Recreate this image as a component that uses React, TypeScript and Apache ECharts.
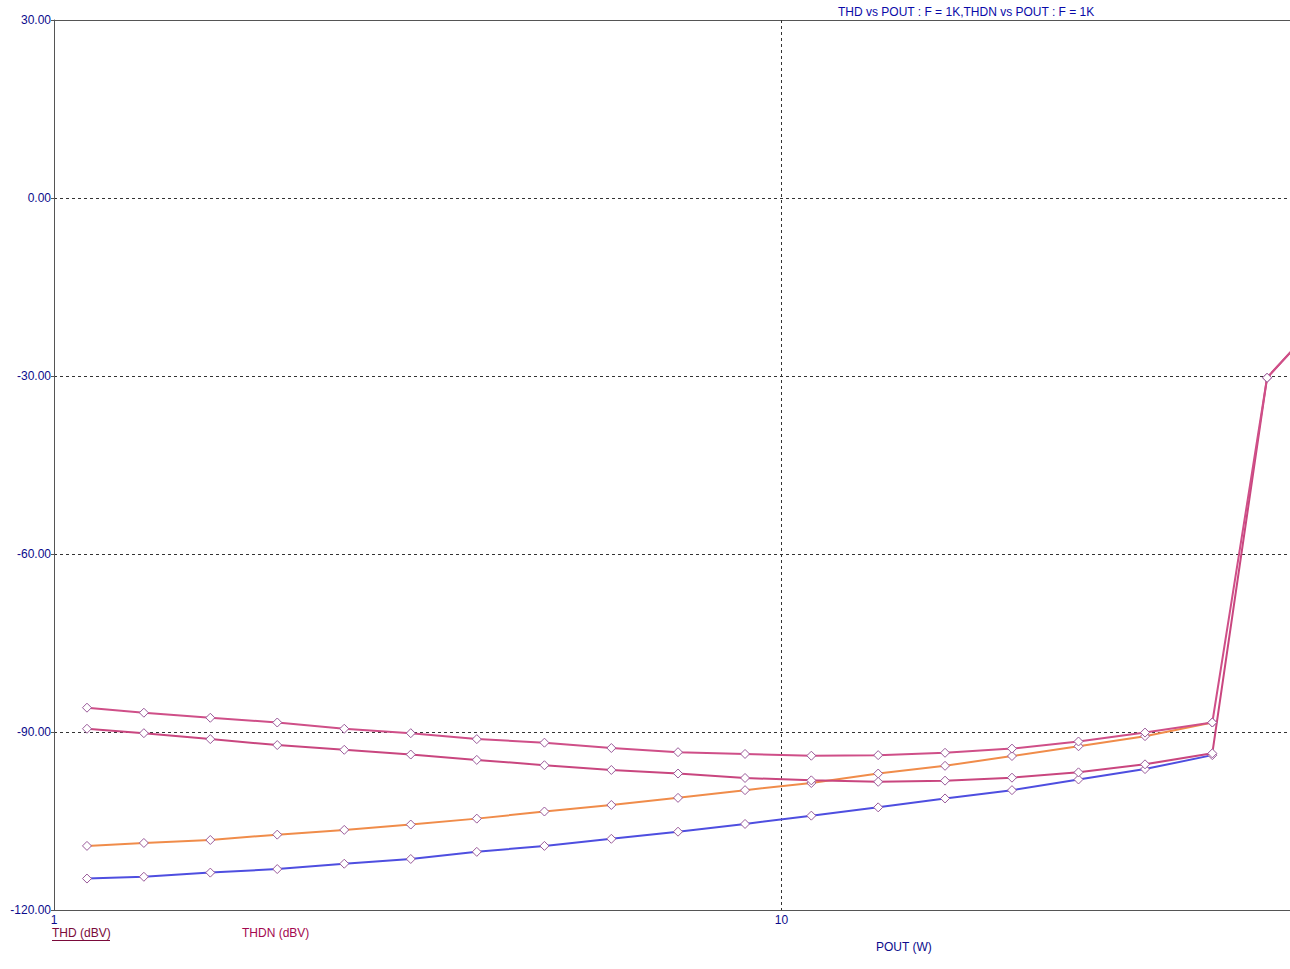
import React, { useEffect, useRef } from "react";
import * as echarts from "echarts";

const pout = [1.11, 1.329, 1.64, 2.027, 2.506, 3.093, 3.812, 4.722, 5.836, 7.207, 8.91, 10.99, 13.58, 16.78, 20.74, 25.6, 31.6, 39.1, 46.5, 57.5];
const thdnA = [-85.9, -86.75, -87.6, -88.4, -89.45, -90.2, -91.2, -91.8, -92.7, -93.4, -93.7, -94.0, -93.9, -93.5, -92.8, -91.6, -90.1, -88.4, -30.3, -18];
const thdnB = [-89.45, -90.2, -91.2, -92.2, -93.0, -93.8, -94.7, -95.6, -96.4, -97.0, -97.75, -98.15, -98.4, -98.2, -97.7, -96.8, -95.45, -93.6, -30.3, -18];
const thdA = [-109.2, -108.7, -108.2, -107.3, -106.5, -105.6, -104.6, -103.4, -102.3, -101.1, -99.8, -98.6, -97.0, -95.7, -94.05, -92.4, -90.7, -88.4];
const thdB = [-114.7, -114.4, -113.7, -113.1, -112.2, -111.4, -110.2, -109.2, -108.0, -106.8, -105.5, -104.1, -102.7, -101.2, -99.8, -98.0, -96.25, -93.9];

const titleText = "THD vs POUT : F = 1K,THDN vs POUT : F = 1K";
const legendNames = ["THD (dBV)", "THDN (dBV)"];
const xName = "POUT (W)";

const FONT = "'Liberation Sans', Arial, sans-serif";
const NAVY = "#0b0b8c";

function pairs(ys: number[]) {
  return ys.map((y, i) => [pout[i], y]);
}

function mkSeries(name: string, ys: number[], color: string, z: number) {
  return {
    name,
    type: "line",
    data: pairs(ys),
    z,
    symbol: "diamond",
    symbolSize: 9,
    showSymbol: true,
    lineStyle: { color, width: 2 },
    itemStyle: { color: "#ffffff", borderColor: "#9a5a9a", borderWidth: 1 },
  };
}

export default function App() {
  const ref = useRef<HTMLDivElement>(null);
  useEffect(() => {
    if (!ref.current) return;
    const chart = echarts.init(ref.current, null, { renderer: "svg" });
    chart.setOption({
      animation: false,
      backgroundColor: "#ffffff",
      grid: { left: 54, top: 20, right: -1, bottom: 59, show: false },
      xAxis: {
        type: "log",
        logBase: 10,
        min: 1,
        max: 50,
        axisLine: { show: true, onZero: false, lineStyle: { color: "#555555" } },
        axisTick: { show: false },
        axisLabel: { color: NAVY, fontSize: 12, fontFamily: FONT, margin: 4, showMaxLabel: false },
        splitLine: { show: true, showMinLine: false, showMaxLine: false, lineStyle: { color: "#333333", type: [3, 3], width: 1 } },
        minorTick: { show: false },
      },
      yAxis: {
        type: "value",
        min: -120,
        max: 30,
        interval: 30,
        axisLine: { show: true, onZero: false, lineStyle: { color: "#555555" } },
        axisTick: { show: true, length: 3, lineStyle: { color: "#555555" } },
        axisLabel: {
          color: NAVY,
          fontSize: 12,
          fontFamily: FONT,
          margin: 3,
          formatter: (v: number) => v.toFixed(2),
        },
        splitLine: { show: true, showMinLine: false, showMaxLine: false, lineStyle: { color: "#333333", type: [3, 3], width: 1 } },
      },
      series: [
        mkSeries("THD A", thdA, "#f08c4a", 2),
        mkSeries("THD B", thdB, "#4e4ee0", 2),
        mkSeries("THDN B", thdnB, "#c9467f", 3),
        mkSeries("THDN A", thdnA, "#cf4f88", 4),
      ],
      graphic: [
        {
          type: "line",
          shape: { x1: 54, y1: 20.5, x2: 1290, y2: 20.5 },
          style: { stroke: "#555555", lineWidth: 1 },
        },
        {
          type: "text",
          left: 838,
          top: 6,
          style: { text: titleText, fill: "#0a0aa8", font: `12px ${FONT}` },
        },
        {
          type: "text",
          left: 52,
          top: 927,
          style: { text: legendNames[0], fill: "#7a0a3a", font: `12px ${FONT}` },
        },
        {
          type: "line",
          shape: { x1: 52, y1: 940.5, x2: 110, y2: 940.5 },
          style: { stroke: "#7a0a3a", lineWidth: 1 },
        },
        {
          type: "text",
          left: 242,
          top: 927,
          style: { text: legendNames[1], fill: "#a3084f", font: `12px ${FONT}` },
        },
        {
          type: "text",
          left: 876,
          top: 941,
          style: { text: xName, fill: NAVY, font: `12px ${FONT}` },
        },
      ],
    });
    return () => chart.dispose();
  }, []);
  return (
    <div
      ref={ref}
      style={{ position: "absolute", left: 0, top: 0, width: 1290, height: 969 }}
    />
  );
}
